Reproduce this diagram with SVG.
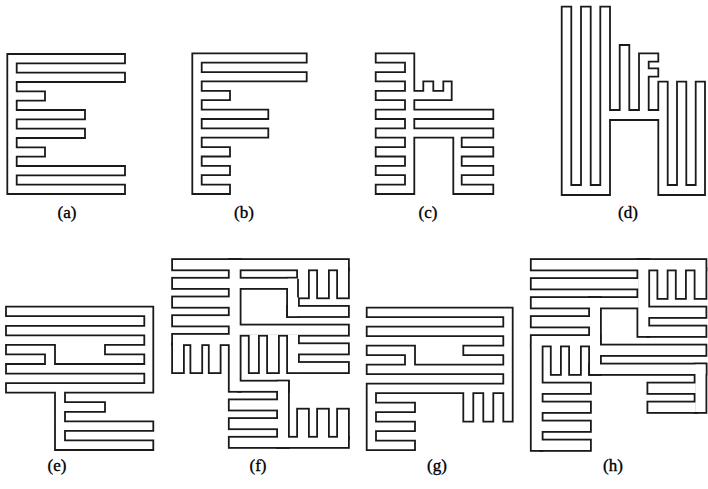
<svg xmlns="http://www.w3.org/2000/svg" xmlns:xlink="http://www.w3.org/1999/xlink" width="708" height="489" viewBox="0 0 708 489">
<style>
.ln{fill:none;stroke:#1a1a1a;stroke-width:1.8;stroke-linejoin:miter}
.uo{fill:none;stroke:#1a1a1a;stroke-width:3.6}
.ui{fill:#fff;stroke:none}
.lbl{font-family:"Liberation Serif","Times New Roman",serif;font-size:17px;fill:#000;stroke:#000;stroke-width:0.35;text-anchor:middle}
</style>
<defs>
<g id="fR">
<rect x="173" y="260" width="175" height="9.4"/>
<rect x="229.7" y="260" width="10" height="130.9"/>
<rect x="173" y="278.7" width="57" height="9.3"/>
<rect x="173" y="297.4" width="57" height="9.4"/>
<rect x="173" y="316.1" width="57" height="9.4"/>
<rect x="173" y="334.8" width="57" height="9.4"/>
<rect x="173" y="344" width="10" height="28.2"/>
<rect x="191.3" y="344" width="10" height="28.2"/>
<rect x="209.7" y="344" width="10" height="28.2"/>
<rect x="239" y="278.7" width="59" height="9.3"/>
<rect x="298" y="269" width="10" height="28.4"/>
<rect x="318" y="269" width="10" height="28.4"/>
<rect x="338" y="269" width="10" height="28.4"/>
<rect x="288" y="278.7" width="10" height="37.4"/>
<rect x="288" y="306.8" width="60" height="9.3"/>
<rect x="239" y="325.5" width="109" height="9.3"/>
<rect x="288" y="334.5" width="10" height="37.7"/>
<rect x="297.5" y="344.2" width="50.5" height="9.3"/>
<rect x="297.5" y="362.9" width="50.5" height="9.3"/>
<rect x="249.7" y="334.5" width="8.3" height="37.7"/>
<rect x="268" y="334.5" width="10" height="37.7"/>
<rect x="239" y="381.6" width="49" height="9.3"/>
<rect x="278" y="381.6" width="10" height="65.4"/>
<rect x="229.7" y="400.3" width="49" height="9.3"/>
<rect x="229.7" y="419" width="49" height="9.3"/>
<rect x="229.7" y="437.7" width="118.3" height="9.3"/>
<rect x="298" y="409.6" width="10" height="28.5"/>
<rect x="318" y="409.6" width="10" height="28.5"/>
<rect x="338" y="409.6" width="10" height="28.5"/>
</g>
<g id="hR">
<rect x="531.7" y="260" width="173.8" height="9.5"/>
<rect x="638.3" y="260" width="10" height="76"/>
<rect x="531.7" y="279" width="107" height="9.5"/>
<rect x="531.7" y="298" width="107" height="9.5"/>
<rect x="590" y="298" width="10" height="76"/>
<rect x="531.7" y="317" width="58.8" height="9.5"/>
<rect x="658.3" y="269" width="8.4" height="29"/>
<rect x="676.7" y="269" width="8.3" height="29"/>
<rect x="695.5" y="269" width="10" height="29"/>
<rect x="648" y="307.5" width="57.5" height="9.5"/>
<rect x="648" y="326.5" width="57.5" height="9.5"/>
<rect x="531.7" y="336" width="68" height="9.5"/>
<rect x="531.7" y="345" width="10" height="105"/>
<rect x="551.7" y="345" width="8.3" height="29"/>
<rect x="570" y="345" width="10" height="29"/>
<rect x="599.5" y="345.5" width="106" height="9.5"/>
<rect x="590" y="364.5" width="115.5" height="9.5"/>
<rect x="695.5" y="364.5" width="10" height="47.5"/>
<rect x="648.3" y="383.5" width="47.5" height="9.5"/>
<rect x="648.3" y="402.5" width="47.5" height="9.5"/>
<rect x="541" y="383.5" width="49" height="9.5"/>
<rect x="541" y="402.5" width="49" height="9.5"/>
<rect x="541" y="421.5" width="49" height="9.5"/>
<rect x="541" y="440.5" width="49" height="9.5"/>
</g>
</defs>
<rect x="0" y="0" width="708" height="489" fill="#fff"/>
<g id="fig-a">
<path class="ln" d="M7.3 54H125V63.3H16.7V72.7H125V82H16.7V91.3H45V100.7H16.7V110H85V119.3H16.7V128.7H85V138H16.7V147.3H45V156.7H16.7V166H125V175.3H16.7V184.7H125V194H7.3Z"/>
<text class="lbl" x="67" y="218">(a)</text>
</g>
<g id="fig-b">
<path class="ln" d="M192.3 53.3H306.7V62.7H201.7V72.1H306.7V81.4H201.7V90.8H230V100.2H201.7V109.6H268.3V119H201.7V128.3H268.3V137.7H201.7V147.1H230V156.5H201.7V165.9H230V175.2H201.7V184.6H230V194H192.3Z"/>
<text class="lbl" x="244" y="218">(b)</text>
</g>
<g id="fig-c">
<path class="ln" d="M375.7 53.3H414.3V90.8H423.3V81.4H433.3V90.8H443.3V81.4H451.7V100.2H414.3V109.6H493.3V119H414.3V128.3H493.3V137.7H461.7V147.1H493.3V156.5H461.7V165.9H493.3V175.2H461.7V184.6H493.3V194H453.3V137.7H414.3V194H375.7V184.6H405V175.2H375.7V165.9H405V156.5H375.7V147.1H405V137.7H375.7V128.3H405V119H375.7V109.6H405V100.2H375.7V90.8H405V81.4H375.7V72.1H405V62.7H375.7Z"/>
<text class="lbl" x="428" y="218">(c)</text>
</g>
<g id="fig-d">
<path class="ln" d="M561.7 6.7H571.3V185H581V6.7H590.7V185H600.3V6.7H610V110H619.7V45H629.3V110H639V53.3H658.3V61.7H648.7V68.3H658.3V76.7H648.7V110H658.3V81.7H667.7V185H677V81.7H686.3V185H695.7V81.7H705V195H658.3V120H610V195H561.7Z"/>
<text class="lbl" x="628" y="218">(d)</text>
</g>
<g id="fig-e">
<path class="ln" d="M6 306.7H153.3V392.7H65V402.2H105V411.8H65V421.3H153.3V430.9H65V440.4H153.3V450H55V392.7H6V383.1H144.3V373.6H6V364H45V354.4H6V344.9H55V364H144.3V354.4H105V344.9H144.3V335.3H6V325.8H144.3V316.2H6Z"/>
<text class="lbl" x="57" y="471">(e)</text>
</g>
<g id="fig-f">
<use xlink:href="#fR" class="uo"/>
<use xlink:href="#fR" class="ui"/>
<path class="ln" d="M298 278.7V297.4"/>
<text class="lbl" x="258" y="471">(f)</text>
</g>
<g id="fig-g">
<path class="ln" d="M366.7 307.7H512.7V421.7H503.3V393.2H493.3V421.7H483.3V393.2H473.3V421.7H463.3V393.2H376V402.7H415V412.2H376V421.7H415V431.2H376V440.7H415V450.2H366.7V383.7H503.3V374.2H366.7V364.7H405V355.2H366.7V345.7H415V364.7H503.3V355.2H463.3V345.7H503.3V336.2H366.7V326.7H503.3V317.2H366.7Z"/>
<text class="lbl" x="437" y="471">(g)</text>
</g>
<g id="fig-h">
<use xlink:href="#hR" class="uo"/>
<use xlink:href="#hR" class="ui"/>
<text class="lbl" x="613" y="471">(h)</text>
</g>
</svg>
